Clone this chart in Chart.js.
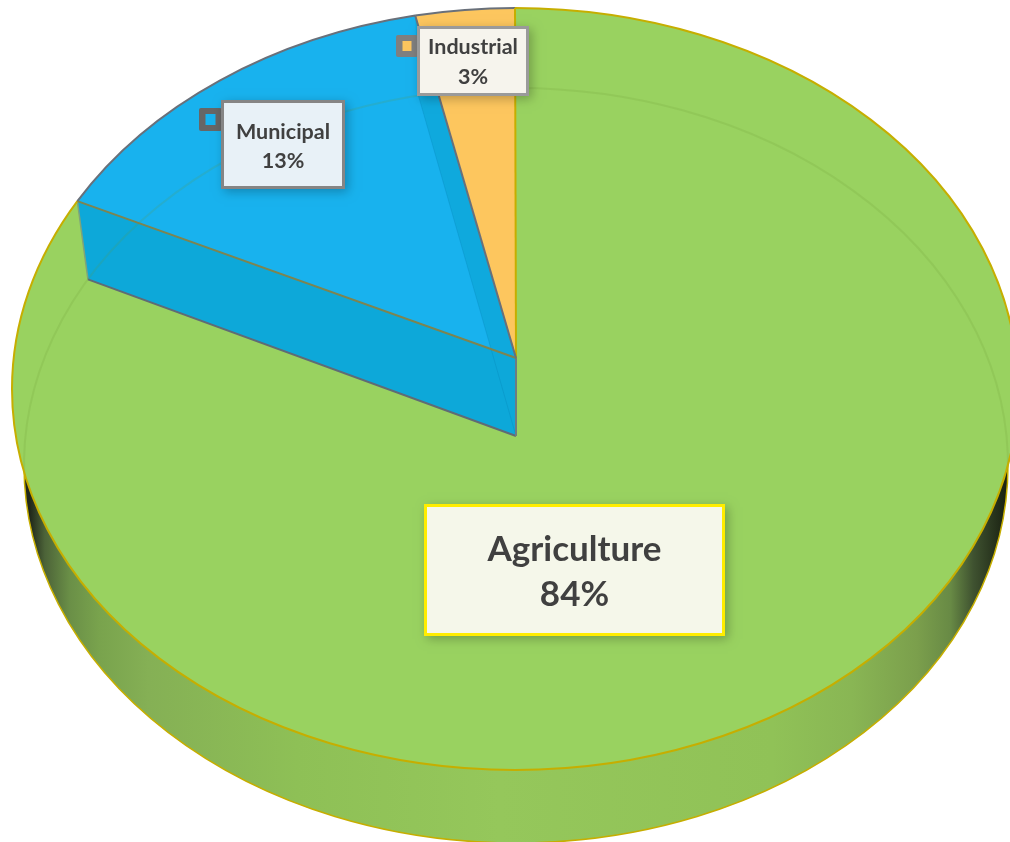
<!DOCTYPE html>
<html>
<head>
<meta charset="utf-8">
<title>Water use by sector</title>
<script src="https://cdn.jsdelivr.net/npm/chart.js@4/dist/chart.umd.min.js"></script>
<style>
    html, body { margin: 0; padding: 0; background: #fff; overflow: hidden; }
    #water-chart { display: block; }
</style>
</head>
<body>
<canvas id="water-chart" width="1010" height="842"></canvas>
<script>
const categories = ["Agriculture", "Municipal", "Industrial"];
const shares = [84, 13, 3];

const sliceColors = ["#99D260", "#18B2EE", "#FDC65E"];
const sliceEdges = ["#C6AE00", "#69707A", "#69707A"];

// top face and floor of the tilted disc
const topFace = { cx: 515, cy: 389, rx: 503, ry: 381, hubY: 358 };
const floorFace = { cx: 516, cy: 465.5, rx: 492, ry: 377.5, hubY: 436 };
const hubX = 516;
const perspective = 1.06;

// callout boxes, one per category
const callouts = [
    { x: 424, y: 504, w: 301, h: 132, size: 35, lines: [550, 595], border: "#FFED00", fill: "#F5F7EA" },
    { x: 221, y: 100, w: 124, h: 89, size: 21.5, lines: [132, 161], border: "#858585", fill: "#E8F1F7",
      marker: { x: 199, y: 108, w: 23, h: 23, color: "#666666" } },
    { x: 417, y: 26, w: 112, h: 70, size: 21.5, lines: [47, 77], border: "#9A9A9A", fill: "#F6F4ED",
      marker: { x: 396, y: 35, w: 22, h: 22, color: "#7F7F7F" } },
];

// side wall shading, left to right
const wallStops = [
    [0.01, "#20281A"], [0.025, "#4C6338"], [0.05, "#6A8F47"], [0.08, "#79A34D"],
    [0.13, "#85B055"], [0.28, "#8EC056"], [0.485, "#95C75B"], [0.76, "#90C257"],
    [0.84, "#89B654"], [0.906, "#7B9F4C"], [0.94, "#688A45"], [0.963, "#3F5230"],
    [0.995, "#1B2313"],
];

// chart angle -> position round the ellipse, clockwise from the top
const toRimAngle = (angle) => {
    const t = (angle + Math.PI / 2) / 2;
    return 2 * Math.atan2(perspective * Math.sin(t), Math.cos(t));
};

const rimPoint = (face, angle) => {
    const a = toRimAngle(angle);
    return { x: face.cx + face.rx * Math.sin(a), y: face.cy - face.ry * Math.cos(a) };
};

const rimArc = (ctx, face, start, end) => {
    ctx.ellipse(face.cx, face.cy, face.rx, face.ry, 0,
        toRimAngle(start) - Math.PI / 2, toRimAngle(end) - Math.PI / 2);
};

const line = (ctx, a, b, color, width) => {
    ctx.strokeStyle = color;
    ctx.lineWidth = width;
    ctx.beginPath();
    ctx.moveTo(a.x, a.y);
    ctx.lineTo(b.x, b.y);
    ctx.stroke();
};

const drawSideWall = (ctx) => {
    const shade = ctx.createLinearGradient(20, 0, 1010, 0);
    wallStops.forEach(([at, color]) => shade.addColorStop(at, color));
    ctx.fillStyle = shade;
    ctx.strokeStyle = "#C6AE00";
    ctx.lineWidth = 1.5;
    ctx.beginPath();
    ctx.ellipse(floorFace.cx, floorFace.cy, floorFace.rx, floorFace.ry, 0, 0, Math.PI * 2);
    ctx.fill();
    ctx.stroke();
};

const drawTopFace = (ctx, arcs) => {
    arcs.forEach((arc) => {
        ctx.fillStyle = arc.options.backgroundColor;
        ctx.beginPath();
        ctx.moveTo(hubX, topFace.hubY);
        rimArc(ctx, topFace, arc.startAngle, arc.endAngle);
        ctx.closePath();
        ctx.fill();
    });
};

// the slice walls that show through the Municipal wedge
const drawInnerWalls = (ctx, arcs) => {
    const municipal = arcs[1];
    const hubTop = { x: hubX, y: topFace.hubY };
    const hubLow = { x: hubX, y: floorFace.hubY };
    const frontTop = rimPoint(topFace, municipal.startAngle);
    const frontLow = rimPoint(floorFace, municipal.startAngle);
    const backTop = rimPoint(topFace, municipal.endAngle);
    const backLow = rimPoint(floorFace, municipal.endAngle);

    ctx.fillStyle = "#0FA9DD";
    ctx.beginPath();
    ctx.moveTo(backTop.x, backTop.y);
    ctx.lineTo(backLow.x, backLow.y);
    ctx.lineTo(hubLow.x, hubLow.y);
    ctx.lineTo(hubTop.x, hubTop.y);
    ctx.closePath();
    ctx.fill();

    ctx.fillStyle = "#0DA8D9";
    ctx.beginPath();
    ctx.moveTo(frontTop.x, frontTop.y);
    ctx.lineTo(frontLow.x, frontLow.y);
    ctx.lineTo(hubLow.x, hubLow.y);
    ctx.lineTo(hubTop.x, hubTop.y);
    ctx.closePath();
    ctx.fill();

    line(ctx, backLow, hubLow, "rgba(0, 110, 160, 0.2)", 1);
    line(ctx, frontTop, frontLow, "#7FA37A", 1.5);
    line(ctx, frontLow, hubLow, "#5F6B75", 2);
    line(ctx, hubTop, hubLow, "#6C7C84", 2);
};

// faint floor outline seen through the top face
const drawFloorTrace = (ctx) => {
    ctx.save();
    ctx.beginPath();
    ctx.ellipse(topFace.cx, topFace.cy, topFace.rx, topFace.ry, 0, 0, Math.PI * 2);
    ctx.clip();
    ctx.strokeStyle = "rgba(105, 150, 50, 0.16)";
    ctx.lineWidth = 2;
    ctx.beginPath();
    ctx.ellipse(floorFace.cx, floorFace.cy, floorFace.rx, floorFace.ry, 0, Math.PI * 0.99, Math.PI * 2.01);
    ctx.stroke();
    ctx.restore();
};

const drawEdges = (ctx, arcs) => {
    const hubTop = { x: hubX, y: topFace.hubY };
    arcs.forEach((arc) => {
        ctx.strokeStyle = arc.options.borderColor;
        ctx.lineWidth = 2;
        ctx.beginPath();
        rimArc(ctx, topFace, arc.startAngle, arc.endAngle);
        ctx.stroke();
    });
    line(ctx, hubTop, rimPoint(topFace, arcs[0].startAngle), sliceEdges[0], 2);
    line(ctx, hubTop, rimPoint(topFace, arcs[1].startAngle), "#7D8450", 2);
    line(ctx, hubTop, rimPoint(topFace, arcs[2].startAngle), sliceEdges[1], 2);
};

const drawCallout = (ctx, box, index) => {
    if (box.marker) {
        const m = box.marker;
        ctx.fillStyle = m.color;
        ctx.beginPath();
        ctx.roundRect(m.x, m.y, m.w, m.h, 2);
        ctx.fill();
        ctx.fillStyle = sliceColors[index];
        ctx.fillRect(m.x + 6.5, m.y + 6, m.w - 13, m.h - 12);
    }
    ctx.save();
    ctx.shadowColor = "rgba(0, 0, 0, 0.25)";
    ctx.shadowBlur = 10;
    ctx.shadowOffsetX = 3;
    ctx.shadowOffsetY = 3;
    ctx.fillStyle = box.border;
    ctx.fillRect(box.x, box.y, box.w, box.h);
    ctx.restore();
    ctx.fillStyle = box.fill;
    ctx.fillRect(box.x + 3, box.y + 3, box.w - 6, box.h - 6);

    const midX = box.x + box.w / 2;
    ctx.fillStyle = "#404040";
    ctx.font = `bold ${box.size}px Lato, "Open Sans", sans-serif`;
    ctx.textAlign = "center";
    ctx.textBaseline = "middle";
    ctx.fillText(categories[index], midX, box.lines[0]);
    ctx.fillText(`${shares[index]}%`, midX, box.lines[1]);
};

const tiltedPie = {
    id: "tiltedPie",
    beforeDatasetDraw(chart, args) {
        const ctx = chart.ctx;
        const arcs = args.meta.data;
        drawSideWall(ctx);
        drawTopFace(ctx, arcs);
        drawInnerWalls(ctx, arcs);
        drawFloorTrace(ctx);
        drawEdges(ctx, arcs);
        return false;
    },
    afterDatasetsDraw(chart) {
        callouts.forEach((box, i) => drawCallout(chart.ctx, box, i));
    },
};

new Chart(document.getElementById("water-chart"), {
    type: "pie",
    data: {
        labels: categories,
        datasets: [
            {
                label: "Share of water use",
                data: shares,
                backgroundColor: sliceColors,
                borderColor: sliceEdges,
            },
        ],
    },
    options: {
        responsive: false,
        animation: false,
        plugins: {
            legend: { display: false },
            tooltip: { enabled: false },
        },
    },
    plugins: [tiltedPie],
});
</script>
</body>
</html>
